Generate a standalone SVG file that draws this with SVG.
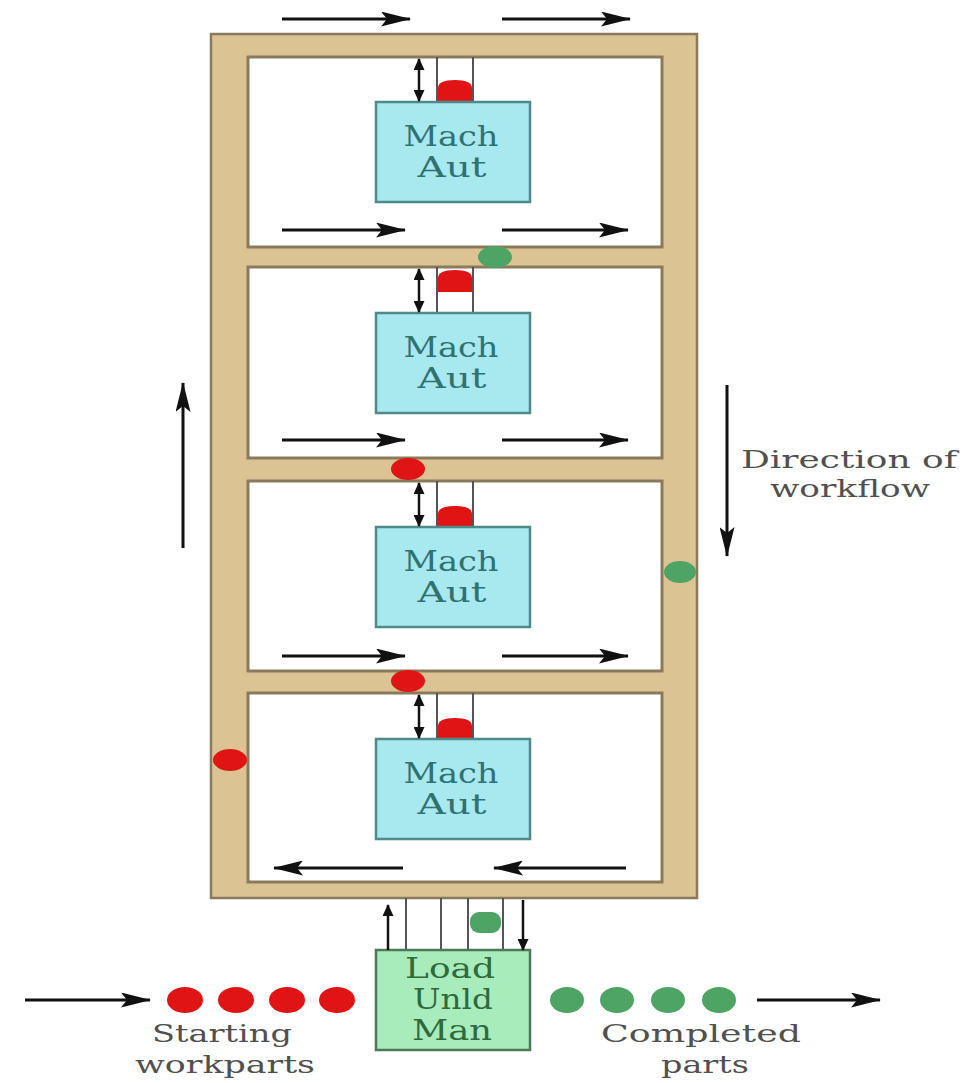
<svg xmlns="http://www.w3.org/2000/svg" width="966" height="1083" viewBox="0 0 966 1083">
<style>
.room{fill:#ffffff;stroke:#8a7a5c;stroke-width:3}
.mach{fill:#a8e8ef;stroke:#4e8a8a;stroke-width:2.5}
.machT{font-family:"DejaVu Serif","Liberation Serif",serif;font-size:27px;fill:#2f7272;text-anchor:middle}
.load{fill:#a8ecbc;stroke:#4c7a58;stroke-width:2.5}
.loadT{font-family:"DejaVu Serif","Liberation Serif",serif;font-size:27px;fill:#2e6a3c;text-anchor:middle}
.lbl{font-family:"DejaVu Serif","Liberation Serif",serif;font-size:25px;fill:#505050;text-anchor:middle}
.arr{stroke:#111;stroke-width:3;fill:none;marker-end:url(#ah)}
.dbl{stroke:#111;stroke-width:2.5;fill:none;marker-end:url(#ahs);marker-start:url(#ahs)}
.sgl{stroke:#111;stroke-width:2.5;fill:none;marker-end:url(#ahs)}
.rail{stroke:#555;stroke-width:2}
.red{fill:#e01414}
.grn{fill:#4ea464}
</style>
<defs>
<marker id="ah" markerWidth="30" markerHeight="15" refX="29" refY="7.5" orient="auto" markerUnits="userSpaceOnUse" viewBox="0 0 30 15">
<path d="M0,0 L30,7.5 L0,15 L6,7.5 Z" fill="#111"/>
</marker>
<marker id="ahs" markerWidth="12" markerHeight="11" refX="11" refY="5.5" orient="auto-start-reverse" markerUnits="userSpaceOnUse" viewBox="0 0 12 11">
<path d="M0,0 L12,5.5 L0,11 Z" fill="#111"/>
</marker>
</defs>
<g id="frame">
<rect x="211" y="34" width="486" height="864" fill="#dcc393" stroke="#8a7a5c" stroke-width="2.5"/>
</g>
<g id="room1"><rect class="room" x="248" y="57" width="414" height="190"/></g>
<g id="room2"><rect class="room" x="248" y="267" width="414" height="191"/></g>
<g id="room3"><rect class="room" x="248" y="481" width="414" height="190"/></g>
<g id="room4"><rect class="room" x="248" y="693" width="414" height="189"/></g>

<g id="mach1">
<line class="rail" x1="437" y1="57" x2="437" y2="102"/><line class="rail" x1="473" y1="57" x2="473" y2="102"/>
<path class="red" d="M438,102 V88 Q438,80 455,80 Q472,80 472,88 V102 Z"/>
<rect class="mach" x="376" y="102" width="154" height="100"/>
<text class="machT" x="451" y="146" textLength="95" lengthAdjust="spacingAndGlyphs">Mach</text>
<text class="machT" x="452" y="177" textLength="69" lengthAdjust="spacingAndGlyphs">Aut</text>
</g>
<g id="mach2">
<line class="rail" x1="437" y1="267" x2="437" y2="313"/><line class="rail" x1="473" y1="267" x2="473" y2="313"/>
<path class="red" d="M438,292 V278 Q438,270 455,270 Q472,270 472,278 V292 Z"/>
<rect class="mach" x="376" y="313" width="154" height="100"/>
<text class="machT" x="451" y="357" textLength="95" lengthAdjust="spacingAndGlyphs">Mach</text>
<text class="machT" x="452" y="388" textLength="69" lengthAdjust="spacingAndGlyphs">Aut</text>
</g>
<g id="mach3">
<line class="rail" x1="437" y1="481" x2="437" y2="527"/><line class="rail" x1="473" y1="481" x2="473" y2="527"/>
<path class="red" d="M438,527 V514 Q438,506 455,506 Q472,506 472,514 V527 Z"/>
<rect class="mach" x="376" y="527" width="154" height="100"/>
<text class="machT" x="451" y="571" textLength="95" lengthAdjust="spacingAndGlyphs">Mach</text>
<text class="machT" x="452" y="602" textLength="69" lengthAdjust="spacingAndGlyphs">Aut</text>
</g>
<g id="mach4">
<line class="rail" x1="437" y1="693" x2="437" y2="739"/><line class="rail" x1="473" y1="693" x2="473" y2="739"/>
<path class="red" d="M438,739 V726 Q438,718 455,718 Q472,718 472,726 V739 Z"/>
<rect class="mach" x="376" y="739" width="154" height="100"/>
<text class="machT" x="451" y="783" textLength="95" lengthAdjust="spacingAndGlyphs">Mach</text>
<text class="machT" x="452" y="814" textLength="69" lengthAdjust="spacingAndGlyphs">Aut</text>
</g>

<g id="loadunload">
<line class="rail" x1="406" y1="898" x2="406" y2="950"/>
<line class="rail" x1="441" y1="898" x2="441" y2="950"/>
<line class="rail" x1="468" y1="898" x2="468" y2="950"/>
<line class="rail" x1="503" y1="898" x2="503" y2="950"/>
<rect class="grn" x="470" y="912" width="31" height="21" rx="9"/>
<rect class="load" x="376" y="950" width="154" height="100"/>
<text class="loadT" x="450" y="978" textLength="90" lengthAdjust="spacingAndGlyphs">Load</text>
<text class="loadT" x="453" y="1009" textLength="80" lengthAdjust="spacingAndGlyphs">Unld</text>
<text class="loadT" x="452" y="1040" textLength="80" lengthAdjust="spacingAndGlyphs">Man</text>
</g>

<g id="parts">
<ellipse class="grn" cx="495" cy="257" rx="17" ry="11"/>
<ellipse class="grn" cx="680" cy="572" rx="16" ry="11"/>
<ellipse class="red" cx="408" cy="469" rx="17" ry="11"/>
<ellipse class="red" cx="408" cy="681" rx="17" ry="11"/>
<ellipse class="red" cx="230" cy="760" rx="17" ry="11"/>
<ellipse class="red" cx="185" cy="1000" rx="18" ry="13"/>
<ellipse class="red" cx="236" cy="1000" rx="18" ry="13"/>
<ellipse class="red" cx="287" cy="1000" rx="18" ry="13"/>
<ellipse class="red" cx="337" cy="1000" rx="18" ry="13"/>
<ellipse class="grn" cx="567" cy="1000" rx="17" ry="13"/>
<ellipse class="grn" cx="617" cy="1000" rx="17" ry="13"/>
<ellipse class="grn" cx="668" cy="1000" rx="17" ry="13"/>
<ellipse class="grn" cx="719" cy="1000" rx="17" ry="13"/>
</g>

<g id="connectors">
<line class="arr" x1="282" y1="19" x2="410" y2="19"/>
<line class="arr" x1="502" y1="19" x2="630" y2="19"/>
<line class="arr" x1="282" y1="230" x2="405" y2="230"/>
<line class="arr" x1="502" y1="230" x2="628" y2="230"/>
<line class="arr" x1="282" y1="440" x2="405" y2="440"/>
<line class="arr" x1="502" y1="440" x2="628" y2="440"/>
<line class="arr" x1="282" y1="656" x2="405" y2="656"/>
<line class="arr" x1="502" y1="656" x2="628" y2="656"/>
<line class="arr" x1="403" y1="868" x2="274" y2="868"/>
<line class="arr" x1="626" y1="868" x2="494" y2="868"/>
<line class="dbl" x1="419" y1="59" x2="419" y2="101"/>
<line class="dbl" x1="419" y1="269" x2="419" y2="312"/>
<line class="dbl" x1="419" y1="483" x2="419" y2="526"/>
<line class="dbl" x1="419" y1="695" x2="419" y2="738"/>
<line class="arr" x1="183" y1="548" x2="183" y2="383"/>
<line class="arr" x1="727" y1="385" x2="727" y2="556"/>
<line class="sgl" x1="388" y1="950" x2="388" y2="905"/>
<line class="sgl" x1="523" y1="900" x2="523" y2="950"/>
<line class="arr" x1="25" y1="1000" x2="150" y2="1000"/>
<line class="arr" x1="757" y1="1000" x2="880" y2="1000"/>
</g>

<g id="labels">
<text class="lbl" x="849" y="468" textLength="216" lengthAdjust="spacingAndGlyphs">Direction of</text>
<text class="lbl" x="850" y="497" textLength="160" lengthAdjust="spacingAndGlyphs">workflow</text>
<text class="lbl" x="222" y="1042" textLength="140" lengthAdjust="spacingAndGlyphs">Starting</text>
<text class="lbl" x="225" y="1073" textLength="180" lengthAdjust="spacingAndGlyphs">workparts</text>
<text class="lbl" x="701" y="1042" textLength="200" lengthAdjust="spacingAndGlyphs">Completed</text>
<text class="lbl" x="705" y="1073" textLength="88" lengthAdjust="spacingAndGlyphs">parts</text>
</g>
</svg>
